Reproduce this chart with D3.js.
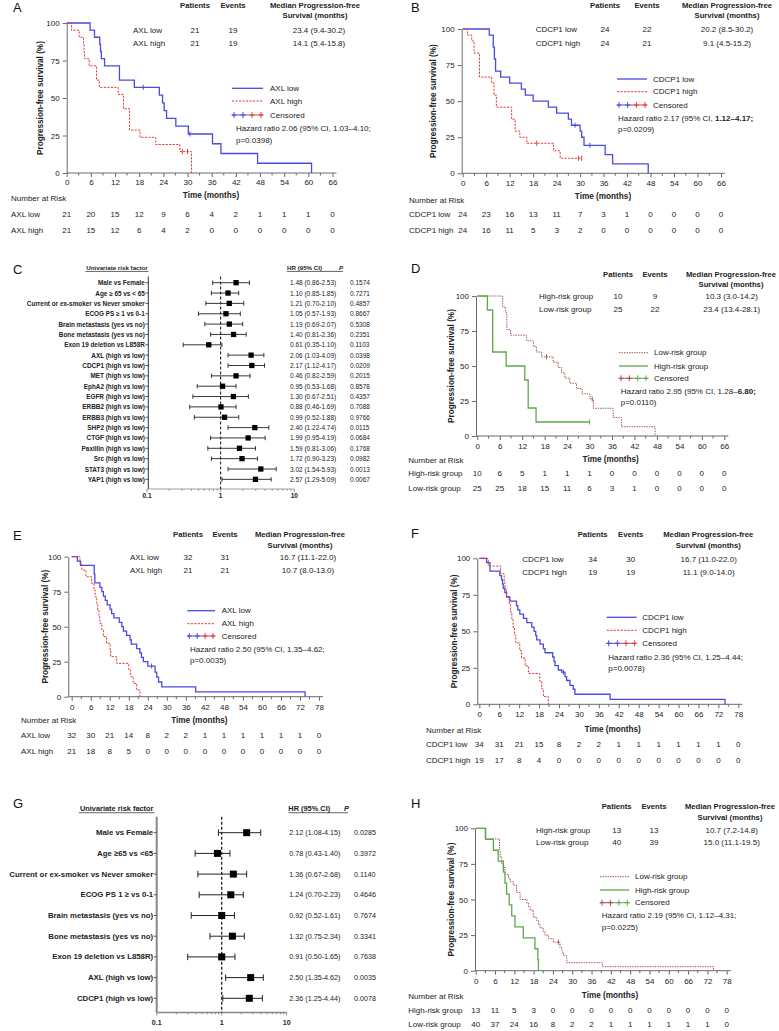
<!DOCTYPE html>
<html><head><meta charset="utf-8">
<script src="https://cdn.jsdelivr.net/npm/d3@7"></script>
<style>body{margin:0;background:#fff}svg{display:block}text{font-family:"Liberation Sans",Arial,sans-serif}</style>
</head><body><svg id="c" width="779" height="1031"></svg>
<script>
// ---------------- DATA ----------------
const ticks66 = [0,6,12,18,24,30,36,42,48,54,60,66];
const ticks78 = [0,6,12,18,24,30,36,42,48,54,60,66,72,78];
const survTicks = [0,25,50,75,100];
const hdrPatients = "Patients", hdrEvents = "Events", hdrMedian1 = "Median Progression-free", hdrMedian2 = "Survival (months)";

// Panel A
const aGroups = ["AXL low","AXL high"];
const aPatients = [21,21], aEvents = [19,19];
const aMedian = ["23.4 (9.4-30.2)","14.1 (5.4-15.8)"];
const aLegend = ["AXL low","AXL high","Censored"];
const aHR = ["Hazard ratio 2.06 (95% CI, 1.03\u20134.10;","p=0.0398)"];
const aRiskLow = [21,20,15,12,9,6,4,2,1,1,1,0];
const aRiskHigh = [21,15,12,6,4,2,0,0,0,0,0,0];
const aLowSteps = [[0,100],[5.8,95.2],[6.9,90.5],[8.2,85.7],[8.4,81],[8.6,76.2],[9.4,71.4],[13.1,61.9],[16.8,57.1],[23.0,51.9],[23.8,46.8],[24.2,41.6],[24.8,36.4],[27.1,31.2],[30.2,26.0],[36.2,19.5],[38.3,13.0],[47.4,6.5],[60.8,0]];
const aLowCens = [[19.0,57.1],[30.6,26.0]];
const aHighSteps = [[0,100],[1.2,95.2],[3.1,90.5],[4.2,85.7],[4.3,81],[4.4,76.2],[5.6,71.4],[7.4,61.9],[8.1,57.1],[12.8,52.4],[14.1,42.9],[15.6,28.6],[18.2,23.8],[22.1,19.0],[28.1,14.3],[31.0,0]];
const aHighCens = [[28.7,14.3],[30.0,14.3]];

// Panel B
const bGroups = ["CDCP1 low","CDCP1 high"];
const bPatients = [24,24], bEvents = [22,21];
const bMedian = ["20.2 (8.5-30.2)","9.1 (4.5-15.2)"];
const bLegend = ["CDCP1 low","CDCP1 high","Censored"];
const bHR = ["Hazard ratio 2.17 (95% CI, 1.12\u20134.17;","p=0.0209)"];
const bRiskLow = [24,23,16,13,11,7,3,1,0,0,0,0];
const bRiskHigh = [24,16,11,5,3,2,0,0,0,0,0,0];
const bLowSteps = [[0,100],[6.8,95.8],[7.8,87.5],[8.1,79.2],[8.4,70.8],[9.7,66.7],[12.0,62.5],[15.0,58.3],[16.0,54.2],[18.0,50],[21.9,45.8],[24.0,41.7],[27.0,37.5],[27.8,33.3],[30.0,29.2],[30.4,25.0],[31.0,19.4],[36.4,12.9],[38.3,6.5],[47.4,0]];
const bLowCens = [[28.7,33.3],[32.5,19.4]];
const bHighSteps = [[0,100],[1.2,95.8],[2.3,91.7],[2.9,83.3],[4.3,66.7],[7.4,62.5],[8.0,54.2],[8.6,45.8],[12.5,37.5],[13.4,29.2],[14.6,25],[16.4,20.8],[23.2,15.6],[24.9,10.4],[30.4,10.4]];
const bHighCens = [[18.9,20.8],[29.6,10.4],[30.4,10.4]];

// Panel D
const dGroups = ["High-risk group","Low-risk group"];
const dPatients = [10,25], dEvents = [9,22];
const dMedian = ["10.3 (3.0-14.2)","23.4 (13.4-28.1)"];
const dLegend = ["Low-risk group","High-risk group","Censored"];
const dHR = ["Hazard ratio 2.95 (95% CI, 1.28\u20136.80;","p=0.0110)"];
const dRiskHigh = [10,6,5,1,1,1,0,0,0,0,0,0];
const dRiskLow = [25,25,18,15,11,6,3,1,0,0,0,0];
const dHighSteps = [[0,100],[2.7,90],[4.1,60],[7.7,50],[12.7,40],[13.6,20],[15.7,10],[30.0,10]];
const dHighCens = [[30.0,10]];
const dLowSteps = [[0,100],[6.8,92],[7.6,88],[7.9,76],[8.9,72],[13.2,68],[15.0,64],[15.8,60],[17.2,56.5],[20.3,52.7],[21.6,48.9],[22.5,45.2],[23.4,41.4],[24.7,37.7],[26.5,33.9],[28.0,30.1],[30.1,26.4],[31.0,19.8],[36.3,13.2],[38.5,6.6],[47.5,0]];
const dLowCens = [[18.5,56.5],[30.7,26.4]];

// Panel E
const eGroups = ["AXL low","AXL high"];
const ePatients = [32,21], eEvents = [31,21];
const eMedian = ["16.7 (11.1-22.0)","10.7 (8.0-13.0)"];
const eLegend = ["AXL low","AXL high","Censored"];
const eHR = ["Hazard ratio 2.50 (95% CI, 1.35\u20134.62;","p=0.0035)"];
const eRiskLow = [32,30,21,14,8,2,2,1,1,1,1,1,1,0];
const eRiskHigh = [21,18,8,5,0,0,0,0,0,0,0,0,0,0];
const eLowSteps = [[0,100],[1.8,96.9],[2.8,93.8],[7.1,87.5],[7.3,81.3],[8.9,78.1],[9.5,75],[10.0,71.9],[10.6,68.8],[11.2,65.6],[12.1,62.5],[12.6,59.4],[13.3,56.3],[15.0,53.1],[15.8,50],[16.3,46.9],[17.3,43.8],[18.4,40.6],[18.8,37.5],[20.5,34.4],[21.5,31.3],[22.0,28.1],[22.6,25.0],[24.0,21.9],[26.3,17.5],[26.8,14.0],[27.4,10.5],[28.4,7.0],[39.1,3.5],[73.6,0]];
const eLowCens = [[25.2,21.9]];
const eHighSteps = [[0,100],[2.6,95.2],[3.2,90.5],[4.5,85.7],[6.3,81],[7.0,76.2],[7.4,71.4],[7.9,66.7],[8.2,61.9],[8.6,57.1],[8.9,52.4],[9.5,47.6],[10.0,42.9],[11.0,38.1],[12.1,33.3],[12.3,28.6],[14.2,23.8],[18.0,19],[18.6,14.3],[19.4,9.5],[20.5,4.8],[21.5,0]];
const eHighCens = [];

// Panel F
const fGroups = ["CDCP1 low","CDCP1 high"];
const fPatients = [34,19], fEvents = [30,19];
const fMedian = ["16.7 (11.0-22.0)","11.1 (9.0-14.0)"];
const fLegend = ["CDCP1 low","CDCP1 high","Censored"];
const fHR = ["Hazard ratio 2.36 (95% CI, 1.25\u20134.44;","p=0.0078)"];
const fRiskLow = [34,31,21,15,8,2,2,1,1,1,1,1,1,0];
const fRiskHigh = [19,17,8,4,0,0,0,0,0,0,0,0,0,0];
const fLowSteps = [[0,100],[2.2,97.1],[3.2,91.2],[6.2,88.2],[6.7,85.3],[7.0,82.4],[7.2,79.4],[7.7,76.5],[8.2,73.5],[9.2,70.6],[11.2,67.6],[11.6,64.7],[12.2,61.8],[13.3,58.8],[14.3,55.9],[15.8,52.9],[16.5,50],[17.0,47.1],[17.3,44.1],[18.3,41.2],[19.3,38.2],[19.8,35.3],[22.1,32.4],[22.5,29.4],[22.8,26.5],[23.8,23.5],[24.8,22.0],[25.8,18.9],[26.3,16.3],[27.3,13.0],[28.3,10.3],[28.8,6.9],[39.4,3.4],[74.0,0]];
const fLowCens = [[25.3,22.0]];
const fHighSteps = [[0,100],[2.7,94.7],[6.4,89.5],[7.5,84.2],[7.7,78.9],[8.2,73.7],[9.0,68.4],[9.4,63.2],[9.8,57.9],[10.2,52.6],[10.6,47.4],[11.0,42.1],[12.2,36.8],[12.7,31.6],[13.8,26.3],[14.8,21.1],[18.2,15.8],[18.8,10.5],[19.3,5.3],[20.8,0]];
const fHighCens = [];

// Panel H
const hGroups = ["High-risk group","Low-risk group"];
const hPatients = [13,40], hEvents = [13,39];
const hMedian = ["10.7 (7.2-14.8)","15.0 (11.1-19.5)"];
const hLegend = ["Low-risk group","High-risk group","Censored"];
const hHR = ["Hazard ratio 2.19 (95% CI, 1.12\u20134.31;","p=0.0225)"];
const hRiskHigh = [13,11,5,3,0,0,0,0,0,0,0,0,0,0];
const hRiskLow = [40,37,24,16,8,2,2,1,1,1,1,1,1,0];
const hHighSteps = [[0,100],[3.1,92.3],[5.5,84.6],[7.0,76.9],[8.6,69.2],[9.1,61.5],[9.6,53.8],[10.4,46.2],[11.2,38.5],[12.2,30.8],[14.8,23.1],[18.4,15.4],[19.3,7.7],[19.5,0]];
const hHighCens = [];
const hLowSteps = [[0,100],[2.9,92.5],[7.4,85],[7.6,80],[8.1,75],[8.6,72.5],[9.1,67.5],[10.2,65],[10.7,62.5],[11.7,60],[12.7,55],[13.8,50],[15.9,47.5],[16.4,45],[16.9,42.5],[17.9,37.5],[19.0,35],[19.5,32.5],[20.0,30],[21.0,27.5],[21.5,25],[22.6,22.5],[24.1,20],[26.2,16],[26.8,13],[27.3,10.5],[28.3,5.6],[39.4,2.8],[73.9,0]];
const hLowCens = [[25.7,20]];

// Panel C forest
const cLabels = ["Male vs Female","Age \u2265 65 vs < 65","Current or ex-smoker vs Never smoker","ECOG PS \u2265 1 vs 0-1","Brain metastasis (yes vs no)","Bone metastasis (yes vs no)","Exon 19 deletion vs L858R","AXL (high vs low)","CDCP1 (high vs low)","MET (high vs low)","EphA2 (high vs low)","EGFR (high vs low)","ERBB2 (high vs low)","ERBB3 (high vs low)","SHP2 (high vs low)","CTGF (high vs low)","Paxillin (high vs low)","Src (high vs low)","STAT3 (high vs low)","YAP1 (high vs low)"];
const cHRText = ["1.48 (0.86-2.53)","1.10 (0.85-1.85)","1.21 (0.70-2.10)","1.05 (0.57-1.93)","1.19 (0.69-2.07)","1.40 (0.81-2.36)","0.61 (0.35-1.10)","2.06 (1.03-4.09)","2.17 (1.12-4.17)","0.46 (0.82-2.59)","0.95 (0.53-1.68)","1.30 (0.67-2.51)","0.88 (0.46-1.69)","0.99 (0.52-1.88)","2.40 (1.22-4.74)","1.99 (0.95-4.19)","1.59 (0.81-3.06)","1.72 (0.90-3.23)","3.02 (1.54-5.93)","2.57 (1.29-5.09)"];
const cPText = ["0.1574","0.7271","0.4857","0.8667","0.5308","0.2351","0.1103","0.0398","0.0209","0.2015","0.8578","0.4357","0.7088","0.9766","0.0115","0.0684","0.1768","0.0982","0.0013","0.0067"];
const cHR = [1.62,1.26,1.31,1.18,1.31,1.50,0.69,2.59,2.65,1.62,1.06,1.49,1.01,1.13,2.91,2.36,1.80,1.95,3.51,2.97];
const cLo = [0.78,0.75,0.63,0.50,0.61,0.73,0.31,1.26,1.26,0.75,0.48,0.42,0.38,0.44,1.26,0.73,0.67,0.75,1.26,1.04];
const cHi = [2.46,1.76,2.06,1.85,1.99,2.22,1.04,3.86,3.94,2.51,1.62,2.38,1.62,1.76,4.51,4.02,2.97,3.16,5.68,4.85];

// Panel G forest
const gLabels = ["Male vs Female","Age \u226565 vs <65","Current or ex-smoker vs Never smoker","ECOG PS 1 \u2265 vs 0-1","Brain metastasis (yes vs no)","Bone metastasis (yes vs no)","Exon 19 deletion vs L858R)","AXL (high vs low)","CDCP1 (high vs low)"];
const gHRText = ["2.12 (1.08-4.15)","0.78 (0.43-1.40)","1.36 (0.67-2.68)","1.24 (0.70-2.23)","0.92 (0.52-1.61)","1.32 (0.75-2.34)","0.91 (0.50-1.65)","2.50 (1.35-4.62)","2.36 (1.25-4.44)"];
const gPText = ["0.0285","0.3972","0.1140","0.4646","0.7674","0.3341","0.7638","0.0035","0.0078"];
const gHR = [2.42,0.86,1.51,1.38,1.00,1.46,1.00,2.79,2.66];
const gLo = [0.89,0.39,0.43,0.45,0.34,0.66,0.30,1.15,1.04];
const gHi = [3.98,1.34,2.42,2.15,1.57,2.23,1.60,4.37,4.22];
const forestTicks = [0.1,1,10];
const forestTickLabels = ["0.1","1","10"];

// ---------------- DRAWING ----------------
const svg = d3.select('#c');
function txt(g,x,y,s,o={}){
  const t=g.append('text').attr('x',x).attr('y',y).attr('dominant-baseline','central')
   .attr('font-size',o.size||8).attr('fill',o.fill||'#222').attr('text-anchor',o.anchor||'start')
   .attr('font-weight',o.bold?'bold':'normal').text(s);
  if(o.italic) t.attr('font-style','italic');
  return t;
}
const BLUE='#4a4ae2', RED='#e23c3c', MAROON='#a5524f', GREEN='#5ea84c';
const stBlue={color:BLUE,w:1.3,dash:null}, stRed={color:RED,w:1,dash:'2.2,1.3'};
const stMaroon={color:MAROON,w:1,dash:'1.4,1.1'}, stGreen={color:GREEN,w:1.3,dash:null};

function drawKM(p){
  const g=svg.append('g');
  const xmax=p.ticks[p.ticks.length-1];
  const x=d3.scaleLinear().domain([0,xmax]).range([p.x0,p.x1]);
  const y=d3.scaleLinear().domain([0,100]).range([p.y0,p.y100]);
  const axc='#6a6a6a';
  const ya=g.append('g').attr('transform',`translate(${p.ax},0)`)
    .call(d3.axisLeft(y).tickValues(survTicks).tickSize(4).tickPadding(3).tickSizeOuter(0));
  const xa=g.append('g').attr('transform',`translate(0,${p.y0})`)
    .call(d3.axisBottom(x).tickValues(p.ticks).tickSize(4).tickPadding(3).tickSizeOuter(0));
  xa.select('.domain').attr('d',`M${p.ax},0H${p.x1+4}`);
  xa.selectAll('.minor').data(p.ticks.slice(0,-1).map(t=>t+3)).join('line').attr('class','minor')
    .attr('x1',d=>x(d)).attr('x2',d=>x(d)).attr('y1',0).attr('y2',2.5);
  [ya,xa].forEach(a=>{a.selectAll('path,line').attr('stroke',axc).attr('stroke-width',1);
    a.selectAll('text').attr('font-size',8).attr('fill','#222').attr('font-family','"Liberation Sans",Arial,sans-serif');});
  xa.selectAll('.tick text').attr('y',p.tickY-p.y0).attr('dy',null).attr('dominant-baseline','central');
  // curves
  const line=d3.line().x(d=>x(d[0])).y(d=>y(d[1])).curve(d3.curveStepAfter);
  p.curves.forEach(cv=>{
    g.append('path').datum(cv.steps).attr('d',line).attr('fill','none')
     .attr('stroke',cv.st.color).attr('stroke-width',cv.st.w).attr('stroke-dasharray',cv.st.dash);
    g.selectAll(null).data(cv.cens).join('line')
     .attr('x1',d=>x(d[0])).attr('x2',d=>x(d[0])).attr('y1',d=>y(d[1])-2.5).attr('y2',d=>y(d[1])+2.5)
     .attr('stroke',cv.st.color).attr('stroke-width',1);
  });
  // labels
  txt(g,0,0,'Progression-free survival (%)',{size:8.2,bold:true,anchor:'middle'})
    .attr('transform',`translate(${p.ylabX},${(p.y0+p.y100)/2}) rotate(-90)`).attr('x',0).attr('y',0);
  txt(g,p.timeX,p.timeY,'Time (months)',{size:8.2,bold:true,anchor:'middle'});
  txt(g,p.lx,p.ly,p.letter,{size:13,fill:'#111'});
  // risk table
  txt(g,p.narX,p.narY,'Number at Risk',{size:8});
  p.risk.forEach((r,i)=>{
    txt(g,p.narX,p.riskY[i],p.riskNames[i],{size:8});
    r.forEach((v,j)=>txt(g,x(p.ticks[j]),p.riskY[i],v,{size:8,anchor:'middle'}));
  });
  // header table
  const h=p.hdr;
  txt(g,h.pX,h.y1,hdrPatients,{size:7.7,bold:true,anchor:'middle'});
  txt(g,h.eX,h.y1,hdrEvents,{size:7.7,bold:true,anchor:'middle'});
  txt(g,h.mX,h.y1,hdrMedian1,{size:7.7,bold:true,anchor:'middle'});
  txt(g,h.mX,h.y2,hdrMedian2,{size:7.7,bold:true,anchor:'middle'});
  p.groups.forEach((n,i)=>{
    txt(g,h.nameX,h.rowY[i],n,{size:8});
    txt(g,h.pX,h.rowY[i],p.patients[i],{size:8,anchor:'middle'});
    txt(g,h.eX,h.rowY[i],p.events[i],{size:8,anchor:'middle'});
    txt(g,h.mValX,h.rowY[i],p.medians[i],{size:8,anchor:'middle'});
  });
  // legend
  const L=p.leg;
  L.styles.forEach((st,i)=>{
    g.append('line').attr('x1',L.x0).attr('x2',L.x1).attr('y1',L.ys[i]).attr('y2',L.ys[i])
     .attr('stroke',st.color).attr('stroke-width',st.w).attr('stroke-dasharray',st.dash);
    txt(g,L.tx,L.ys[i],L.labels[i],{size:8});
  });
  const cy=L.ys[2], mid=(L.x0+L.x1)/2;
  g.append('line').attr('x1',L.x0).attr('x2',mid).attr('y1',cy).attr('y2',cy).attr('stroke',L.cens[0]).attr('stroke-width',1);
  g.append('line').attr('x1',mid).attr('x2',L.x1).attr('y1',cy).attr('y2',cy).attr('stroke',L.cens[3]).attr('stroke-width',1);
  L.cens.forEach((c,k)=>{
    const cx=L.x0+2+k*(L.x1-L.x0-4)/3;
    g.append('line').attr('x1',cx).attr('x2',cx).attr('y1',cy-3).attr('y2',cy+3).attr('stroke',c).attr('stroke-width',1);
    g.append('line').attr('x1',cx-2.5).attr('x2',cx+2.5).attr('y1',cy).attr('y2',cy).attr('stroke',c).attr('stroke-width',1);
  });
  txt(g,L.tx,cy,L.labels[2],{size:8});
  p.hr.forEach((s,i)=>{
    const t=txt(g,L.hrX,L.hrY[i],'',{size:8});
    if(i===0 && p.hrBold && s.endsWith(p.hrBold)){
      t.append('tspan').text(s.slice(0,s.length-p.hrBold.length));
      t.append('tspan').attr('font-weight','bold').text(p.hrBold);
    } else t.text(s);
  });
}

function drawForest(f){
  const g=svg.append('g');
  const x=d3.scaleLog().domain([0.1,10]).range([f.xa,f.xb]);
  const yr=i=>f.yFirst+i*f.dy;
  txt(g,f.lx,f.ly,f.letter,{size:13,fill:'#111'});
  // header
  txt(g,f.hdrLabelX,f.hdrY,'Univariate risk factor',{size:f.hdrSize,bold:true,anchor:'middle'});
  const ulw=f.hdrSize*5.1;
  g.append('line').attr('x1',f.hdrLabelX-ulw).attr('x2',f.hdrLabelX+ulw).attr('y1',f.hdrY+f.hdrSize*0.6).attr('y2',f.hdrY+f.hdrSize*0.6).attr('stroke','#222').attr('stroke-width',0.7);
  txt(g,f.hdrHrX,f.hdrY,'HR (95% CI)',{size:f.hdrSize,bold:true});
  txt(g,f.hdrPX,f.hdrY,'P',{size:f.hdrSize,bold:true,italic:true});
  g.append('line').attr('x1',f.hdrHrX).attr('x2',f.hdrEnd).attr('y1',f.hdrY+f.hdrSize*0.6).attr('y2',f.hdrY+f.hdrSize*0.6).attr('stroke','#222').attr('stroke-width',0.7);
  // left axis
  g.append('line').attr('x1',f.axX).attr('x2',f.axX).attr('y1',f.top).attr('y2',f.bottom).attr('stroke',f.axColor).attr('stroke-width',f.axW);
  // bottom axis
  g.append('line').attr('x1',x(0.1)).attr('x2',x(10)).attr('y1',f.bottom).attr('y2',f.bottom).attr('stroke','#888').attr('stroke-width',f.axW*0.8);
  g.selectAll(null).data(x.ticks()).join('line').attr('x1',d=>x(d)).attr('x2',d=>x(d))
    .attr('y1',f.bottom).attr('y2',d=>f.bottom+(forestTicks.includes(d)?3:1.8)).attr('stroke','#777').attr('stroke-width',0.8);
  forestTicks.forEach((t,i)=>txt(g,x(t),f.tickY,forestTickLabels[i],{size:f.tickSize,bold:true,anchor:'middle'}));
  // reference line
  g.append('line').attr('x1',x(1)).attr('x2',x(1)).attr('y1',f.top).attr('y2',f.bottom).attr('stroke','#111').attr('stroke-width',f.dashW).attr('stroke-dasharray','3,2');
  // rows
  f.labels.forEach((lab,i)=>{
    const yy=yr(i);
    g.append('line').attr('x1',f.axX-3).attr('x2',f.axX).attr('y1',yy).attr('y2',yy).attr('stroke','#333').attr('stroke-width',0.8);
    txt(g,f.axX-3.5,yy,lab,{size:f.labelSize,bold:true,anchor:'end'});
    g.append('line').attr('x1',x(f.lo[i])).attr('x2',x(f.hi[i])).attr('y1',yy).attr('y2',yy).attr('stroke','#222').attr('stroke-width',f.lw);
    [f.lo[i],f.hi[i]].forEach(v=>g.append('line').attr('x1',x(v)).attr('x2',x(v)).attr('y1',yy-f.cap/2).attr('y2',yy+f.cap/2).attr('stroke','#222').attr('stroke-width',f.lw));
    g.append('rect').attr('x',x(f.hr[i])-f.sq/2).attr('y',yy-f.sq/2).attr('width',f.sq).attr('height',f.sq).attr('fill','#000');
    txt(g,f.hrX,yy,f.hrText[i],{size:f.textSize});
    txt(g,f.pX,yy,f.pText[i],{size:f.textSize});
  });
}

// ---------------- PANELS ----------------
drawKM({letter:'A',lx:13,ly:7,ticks:ticks66,x0:66.7,x1:332.5,ax:66.7,y100:23,y0:173,tickY:182.7,timeX:211,timeY:195.7,ylabX:40,
  narX:11,narY:198.7,riskY:[214.7,230.7],riskNames:aGroups,risk:[aRiskLow,aRiskHigh],
  hdr:{pX:195,eX:233,mX:315,y1:5.5,y2:15.7,rowY:[30,43.3],nameX:133,mValX:319},
  groups:aGroups,patients:aPatients,events:aEvents,medians:aMedian,
  curves:[{steps:aLowSteps,cens:aLowCens,st:stBlue},{steps:aHighSteps,cens:aHighCens,st:stRed}],
  leg:{x0:232,x1:263,tx:270,ys:[88.3,101,115],labels:aLegend,styles:[stBlue,stRed],cens:[BLUE,BLUE,RED,RED],hrX:236,hrY:[128,140]},hr:aHR});

drawKM({letter:'B',lx:411,ly:7,ticks:ticks66,x0:462.7,x1:721,ax:461.7,y100:29,y0:173.3,tickY:183.3,timeX:603,timeY:196,ylabX:433,
  narX:409,narY:200,riskY:[214.3,230.3],riskNames:bGroups,risk:[bRiskLow,bRiskHigh],
  hdr:{pX:605,eX:647,mX:727,y1:5.5,y2:15.7,rowY:[29.3,43.3],nameX:535.7,mValX:727},
  groups:bGroups,patients:bPatients,events:bEvents,medians:bMedian,
  curves:[{steps:bLowSteps,cens:bLowCens,st:stBlue},{steps:bHighSteps,cens:bHighCens,st:stRed}],
  leg:{x0:617,x1:647,tx:653,ys:[79,91.7,105],labels:bLegend,styles:[stBlue,stRed],cens:[BLUE,BLUE,RED,RED],hrX:618,hrY:[117.7,129.3]},hr:bHR,hrBold:'1.12\u20134.17;'});

drawKM({letter:'D',lx:411,ly:268.3,ticks:ticks66,x0:477.3,x1:724.3,ax:476,y100:296,y0:436,tickY:446,timeX:610.7,timeY:459,ylabX:451.7,
  narX:408.3,narY:460.3,riskY:[473.3,488.3],riskNames:dGroups,risk:[dRiskHigh,dRiskLow],
  hdr:{pX:618,eX:655,mX:731,y1:274,y2:284.3,rowY:[296.7,309.3],nameX:539,mValX:731.7},
  groups:dGroups,patients:dPatients,events:dEvents,medians:dMedian,
  curves:[{steps:dLowSteps,cens:dLowCens,st:stMaroon},{steps:dHighSteps,cens:dHighCens,st:stGreen}],
  leg:{x0:619,x1:648,tx:654,ys:[352.7,366,378.3],labels:dLegend,styles:[stMaroon,stGreen],cens:[MAROON,MAROON,GREEN,GREEN],hrX:620.7,hrY:[390.7,402]},hr:dHR,hrBold:'6.80;'});

drawKM({letter:'E',lx:13,ly:535,ticks:ticks78,x0:71.7,x1:319,ax:68.3,y100:556.7,y0:696.7,tickY:707.3,timeX:199.3,timeY:720.7,ylabX:45,
  narX:21,narY:720.7,riskY:[735,751],riskNames:eGroups,risk:[eRiskLow,eRiskHigh],
  hdr:{pX:188,eX:225,mX:300,y1:534.3,y2:545,rowY:[557.3,570],nameX:130,mValX:308},
  groups:eGroups,patients:ePatients,events:eEvents,medians:eMedian,
  curves:[{steps:eLowSteps,cens:eLowCens,st:stBlue},{steps:eHighSteps,cens:eHighCens,st:stRed}],
  leg:{x0:187.3,x1:215,tx:221.7,ys:[610.7,623.7,636],labels:eLegend,styles:[stBlue,stRed],cens:[BLUE,BLUE,RED,RED],hrX:190,hrY:[649.3,660]},hr:eHR});

drawKM({letter:'F',lx:411,ly:533.3,ticks:ticks78,x0:479.3,x1:738.3,ax:477.3,y100:558.3,y0:704.3,tickY:715,timeX:612.7,timeY:729,ylabX:454,
  narX:426,narY:730,riskY:[744,760],riskNames:fGroups,risk:[fRiskLow,fRiskHigh],
  hdr:{pX:592.7,eX:630.7,mX:708.3,y1:534.3,y2:545.7,rowY:[559,572.3],nameX:522.3,mValX:708.7},
  groups:fGroups,patients:fPatients,events:fEvents,medians:fMedian,
  curves:[{steps:fLowSteps,cens:fLowCens,st:stBlue},{steps:fHighSteps,cens:fHighCens,st:stRed}],
  leg:{x0:606.7,x1:636.7,tx:642.3,ys:[617.3,630.3,643.3],labels:fLegend,styles:[stBlue,stRed],cens:[BLUE,BLUE,RED,RED],hrX:608.3,hrY:[657.3,668.3]},hr:fHR});

drawKM({letter:'H',lx:411,ly:803.3,ticks:ticks78,x0:475.7,x1:726.7,ax:475,y100:828.3,y0:970.7,tickY:981.7,timeX:610,timeY:995.7,ylabX:451.7,
  narX:408.3,narY:996,riskY:[1010,1024.3],riskNames:hGroups,risk:[hRiskHigh,hRiskLow],
  hdr:{pX:616.7,eX:654,mX:730,y1:806,y2:817.3,rowY:[830,842.7],nameX:536,mValX:731.7},
  groups:hGroups,patients:hPatients,events:hEvents,medians:hMedian,
  curves:[{steps:hLowSteps,cens:hLowCens,st:stMaroon},{steps:hHighSteps,cens:hHighCens,st:stGreen}],
  leg:{x0:600,x1:629.3,tx:635,ys:[876.7,890,902.7],labels:hLegend,styles:[stMaroon,stGreen],cens:[MAROON,MAROON,GREEN,GREEN],hrX:601.7,hrY:[915.7,927.3]},hr:hHR});

drawForest({letter:'C',lx:13,ly:269,labels:cLabels,hrText:cHRText,pText:cPText,hr:cHR,lo:cLo,hi:cHi,
  yFirst:282.7,dy:10.35,axX:148.3,axW:1,axColor:'#333',top:276.5,bottom:489,xa:147,xb:294.3,
  labelSize:6.4,hrX:290,pX:350,textSize:6.5,sq:5.3,cap:4.5,lw:0.9,tickY:495.7,tickSize:6.5,dashW:1,
  hdrY:267.7,hdrLabelX:117,hdrHrX:287,hdrPX:339,hdrEnd:343,hdrSize:6.2});

drawForest({letter:'G',lx:13,ly:803.3,labels:gLabels,hrText:gHRText,pText:gPText,hr:gHR,lo:gLo,hi:gHi,
  yFirst:832.7,dy:20.7,axX:156.7,axW:2,axColor:'#888',top:816.7,bottom:1012.5,xa:156.7,xb:286.7,
  labelSize:7.8,hrX:289.3,pX:354,textSize:7.2,sq:7,cap:6.5,lw:1,tickY:1022.3,tickSize:7,dashW:1.2,
  hdrY:808.3,hdrLabelX:116.7,hdrHrX:288.3,hdrPX:344,hdrEnd:348,hdrSize:7.4});
</script></body></html>
